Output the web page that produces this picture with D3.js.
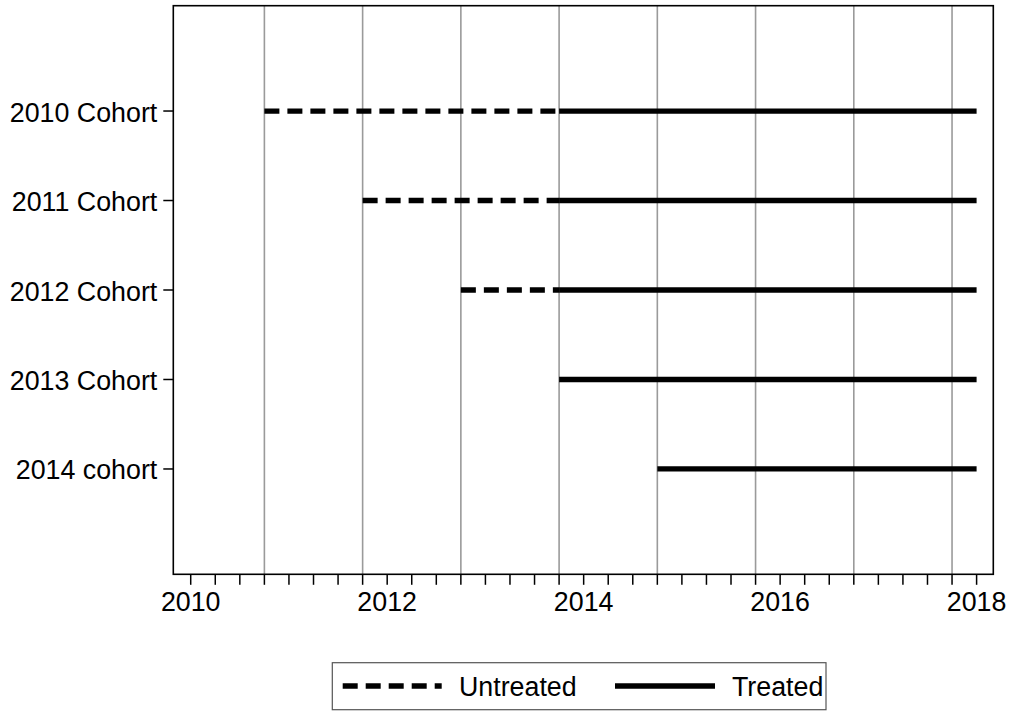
<!DOCTYPE html>
<html><head><meta charset="utf-8">
<script src="https://cdn.jsdelivr.net/npm/d3@7"></script>
<style>
body{margin:0;background:#fff;}
text{font-family:"Liberation Sans",Arial,Helvetica,sans-serif;}
</style></head>
<body><svg id="c" width="1009" height="711"></svg>
<script>
const cohorts = ["2010 Cohort","2011 Cohort","2012 Cohort","2013 Cohort","2014 cohort"];
// decimal years (quarter start): 2010.75 = 2010q4
const untreatedStart = [2010.75, 2011.75, 2012.75, null, null];
const untreatedEnd   = [2013.75, 2013.75, 2013.75, null, null];
const treatedStart   = [2013.75, 2013.75, 2013.75, 2013.75, 2014.75];
const treatedEnd     = [2018, 2018, 2018, 2018, 2018];
const xLineYears = [2010.75, 2011.75, 2012.75, 2013.75, 2014.75, 2015.75, 2016.75, 2017.75];
const majorTicks = [2010, 2012, 2014, 2016, 2018];
const minorTicks = d3.range(0, 33).map(q => 2010 + q/4);
const legendLabels = ["Untreated", "Treated"];

const svg = d3.select("#c");
const L = 173.3, R = 993.3, T = 5.7, B = 574.3;
const x = d3.scaleLinear().domain([2010 - 0.709/4, 2018 + 0.68/4]).range([L, R]);
const y = d3.scaleLinear().domain([1 - 1.177, 5 + 1.177]).range([T, B]);
const FS = 26.8;

// vertical reference lines
svg.append("g").selectAll("line").data(xLineYears).join("line")
  .attr("x1", d => x(d)).attr("x2", d => x(d)).attr("y1", T).attr("y2", B)
  .attr("stroke", "#9a9a9a").attr("stroke-width", 1.6);

// lines
const g = svg.append("g");
cohorts.forEach((c, i) => {
  if (untreatedStart[i] != null) {
    g.append("line").attr("x1", x(untreatedStart[i])).attr("x2", x(untreatedEnd[i]))
      .attr("y1", y(i+1)).attr("y2", y(i+1))
      .attr("stroke", "#000").attr("stroke-width", 5.3).attr("stroke-dasharray", "15,8");
  }
  g.append("line").attr("x1", x(treatedStart[i])).attr("x2", x(treatedEnd[i]))
    .attr("y1", y(i+1)).attr("y2", y(i+1))
    .attr("stroke", "#000").attr("stroke-width", 5.3);
});

// frame
svg.append("rect").attr("x", L).attr("y", T).attr("width", R-L).attr("height", B-T)
  .attr("fill", "none").attr("stroke", "#000").attr("stroke-width", 1.6);

// x axis ticks
const xa = svg.append("g");
xa.selectAll("line").data(minorTicks).join("line")
  .attr("x1", d => x(d)).attr("x2", d => x(d)).attr("y1", B).attr("y2", B + 10.5)
  .attr("stroke", "#000").attr("stroke-width", 1.5);
xa.selectAll("text").data(majorTicks).join("text")
  .attr("x", d => x(d)).attr("y", B + 37).attr("text-anchor", "middle")
  .attr("font-size", FS).attr("fill", "#000").text(d => d);

// y axis
const ya = svg.append("g");
ya.selectAll("line").data(cohorts).join("line")
  .attr("x1", L - 10).attr("x2", L).attr("y1", (d,i) => y(i+1)).attr("y2", (d,i) => y(i+1))
  .attr("stroke", "#000").attr("stroke-width", 1.5);
ya.selectAll("text").data(cohorts).join("text")
  .attr("x", L - 16).attr("y", (d,i) => y(i+1) + 10.5).attr("text-anchor", "end")
  .attr("font-size", FS).attr("fill", "#000").text(d => d);

// legend
const lg = svg.append("g");
lg.append("rect").attr("x", 332.3).attr("y", 662.7).attr("width", 493.7).attr("height", 47)
  .attr("fill", "#fff").attr("stroke", "#555").attr("stroke-width", 1.2);
lg.append("line").attr("x1", 342.7).attr("x2", 441.7).attr("y1", 686).attr("y2", 686)
  .attr("stroke", "#000").attr("stroke-width", 5.3).attr("stroke-dasharray", "15,8");
lg.append("line").attr("x1", 615).attr("x2", 715).attr("y1", 686).attr("y2", 686)
  .attr("stroke", "#000").attr("stroke-width", 5.3);
lg.append("text").attr("x", 459).attr("y", 696).attr("font-size", FS).text(legendLabels[0]);
lg.append("text").attr("x", 732).attr("y", 696).attr("font-size", FS).text(legendLabels[1]);
</script></body></html>
